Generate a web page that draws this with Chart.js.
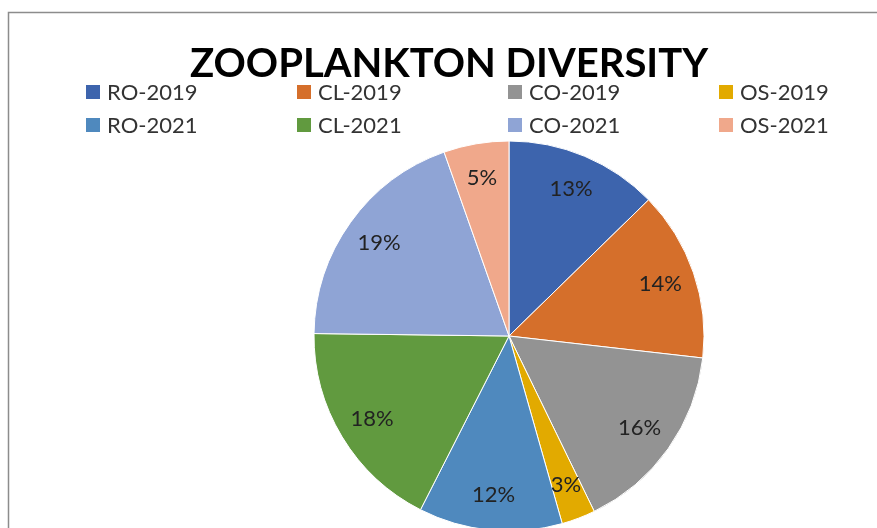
<!DOCTYPE html>
<html>
<head>
<meta charset="utf-8">
<title>Zooplankton Diversity</title>
<script src="https://cdn.jsdelivr.net/npm/chart.js@4.4.1/dist/chart.umd.min.js"></script>
<style>
    html, body { margin: 0; padding: 0; background: #ffffff; overflow: hidden; }
    #wrap { position: relative; width: 877px; height: 540px; }
</style>
</head>
<body>
<div id="wrap"><canvas id="pieChart" width="877" height="540"></canvas></div>
<script>
// Chart data (shares; labels show rounded %)
const chartTitle = 'ZOOPLANKTON DIVERSITY';
const categories = ['RO-2019', 'CL-2019', 'CO-2019', 'OS-2019', 'RO-2021', 'CL-2021', 'CO-2021', 'OS-2021'];
const shares = [12.7, 14.1, 16.0, 2.8, 11.9, 17.7, 19.4, 5.4];
const sliceColors = ['#3d64ad', '#d56f2b', '#939393', '#e2aa00', '#4f89be', '#619a3f', '#8fa4d5', '#f0a88b'];

const FONT = "Lato, 'Open Sans', 'Liberation Sans', sans-serif";

// Frame, title, legend and percentage labels drawn by hand (Excel look)
const excelDecor = {
    id: 'excelDecor',
    beforeDraw(chart) {
        const ctx = chart.ctx;
        ctx.save();
        ctx.strokeStyle = '#8c8c8c';
        ctx.lineWidth = 1.5;
        ctx.beginPath();
        ctx.moveTo(8.5, chart.height);
        ctx.lineTo(8.5, 12.5);
        ctx.lineTo(chart.width, 12.5);
        ctx.stroke();
        ctx.restore();
    },
    afterDraw(chart) {
        const ctx = chart.ctx;
        ctx.save();

        // title
        ctx.fillStyle = '#000000';
        ctx.font = 'bold 40px ' + FONT;
        ctx.textAlign = 'center';
        ctx.textBaseline = 'alphabetic';
        ctx.fillText(chartTitle, 449, 77);

        // legend: 4 columns x 2 rows
        const labels = chart.data.labels;
        const colors = chart.data.datasets[0].backgroundColor;
        ctx.font = '22px ' + FONT;
        ctx.textAlign = 'left';
        labels.forEach((lab, i) => {
            const col = i % 4;
            const row = Math.floor(i / 4);
            const x = 86 + col * 211;
            const y = 85 + row * 33;
            ctx.fillStyle = colors[i];
            ctx.fillRect(x, y, 14, 14);
            ctx.fillStyle = '#333333';
            ctx.fillText(lab, x + 21, y + 15);
        });

        // percentage labels
        const meta = chart.getDatasetMeta(0);
        const total = chart.data.datasets[0].data.reduce((a, b) => a + b, 0);
        ctx.font = '22px ' + FONT;
        ctx.textAlign = 'center';
        ctx.textBaseline = 'middle';
        ctx.fillStyle = '#222222';
        meta.data.forEach((arc, i) => {
            const p = arc.getProps(['x', 'y', 'startAngle', 'endAngle', 'outerRadius']);
            const mid = (p.startAngle + p.endAngle) / 2;
            const r = p.outerRadius * 0.82;
            const pct = Math.round(chart.data.datasets[0].data[i] / total * 100) + '%';
            ctx.fillText(pct, p.x + Math.cos(mid) * r, p.y + Math.sin(mid) * r);
        });
        ctx.restore();
    }
};

new Chart(document.getElementById('pieChart'), {
    type: 'pie',
    data: {
        labels: categories,
        datasets: [{
            data: shares,
            backgroundColor: sliceColors,
            borderColor: '#ffffff',
            borderWidth: 1
        }]
    },
    options: {
        responsive: false,
        animation: false,
        radius: 195,
        layout: {
            padding: { top: 141, bottom: 9, left: 314, right: 173 }
        },
        plugins: {
            legend: { display: false },
            title: { display: false },
            tooltip: { enabled: false }
        }
    },
    plugins: [excelDecor]
});
</script>
</body>
</html>
